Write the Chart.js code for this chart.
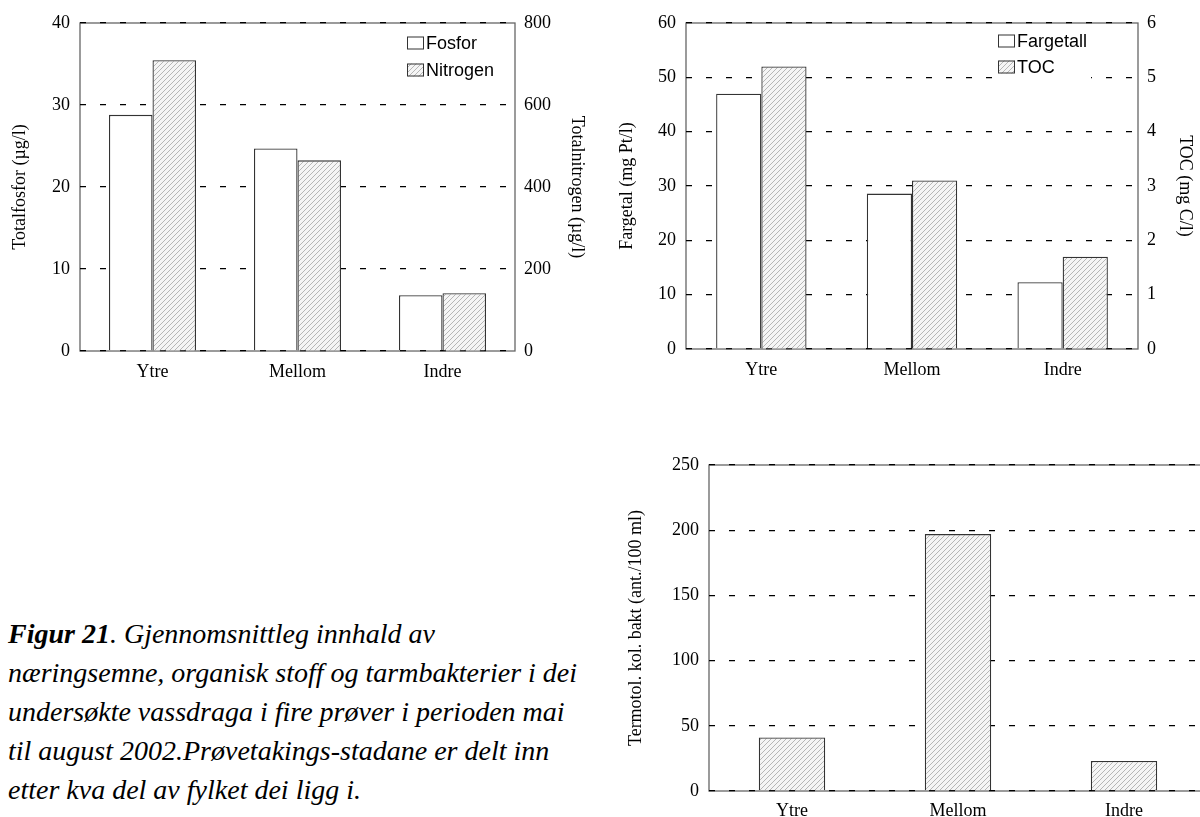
<!DOCTYPE html>
<html>
<head>
<meta charset="utf-8">
<script src="https://cdn.jsdelivr.net/npm/chart.js@4.4.0/dist/chart.umd.min.js"></script>
<style>
  html, body { margin: 0; padding: 0; background: #fff; }
  body { width: 1200px; height: 817px; overflow: hidden; position: relative; }
  canvas { position: absolute; }
  #caption {
    position: absolute; left: 8px; top: 614px;
    font-family: "Liberation Serif", "Times New Roman", serif;
    font-style: italic; font-size: 28px; line-height: 39px;
    color: #000; white-space: nowrap;
  }
</style>
</head>
<body>
<canvas id="c1" width="600" height="400" style="left:0;top:0"></canvas>
<canvas id="c2" width="600" height="400" style="left:600px;top:0"></canvas>
<canvas id="c3" width="620" height="390" style="left:600px;top:440px"></canvas>
<div id="caption"><b>Figur 21</b>. Gjennomsnittleg innhald av<br>næringsemne, organisk stoff og tarmbakterier i dei<br>undersøkte vassdraga i fire prøver i perioden mai<br>til august 2002.Prøvetakings-stadane er delt inn<br>etter kva del av fylket dei ligg i.</div>
<script>
// data
const stations = ['Ytre', 'Mellom', 'Indre'];
const fosfor = [28.8, 24.7, 6.8];        // µg/l
const nitrogen = [709, 465, 141];        // µg/l
const fargetall = [47, 28.6, 12.3];      // mg Pt/l
const toc = [5.2, 3.1, 1.7];             // mg C/l
const termotol = [41, 197, 23];          // ant./100 ml

const serif = { family: '"Liberation Serif", "Times New Roman", serif', size: 18 };

function hatch() {
  const c = document.createElement('canvas');
  c.width = 5; c.height = 5;
  const g = c.getContext('2d');
  g.fillStyle = '#f5f5f5';
  g.fillRect(0, 0, 5, 5);
  g.strokeStyle = '#a6a6a6';
  g.lineWidth = 0.8;
  g.beginPath();
  g.moveTo(0, 5); g.lineTo(5, 0);
  g.moveTo(-1, 1); g.lineTo(1, -1);
  g.moveTo(4, 6); g.lineTo(6, 4);
  g.stroke();
  return g.createPattern(c, 'repeat');
}
const hatchFill = hatch();

// solid grey frame round the plot, drawn under the dashed grid
const frame = {
  id: 'frame',
  beforeDraw(chart) {
    const a = chart.chartArea, ctx = chart.ctx;
    ctx.save();
    ctx.strokeStyle = '#666';
    ctx.lineWidth = 1.3;
    ctx.strokeRect(a.left, a.top, a.right - a.left, a.bottom - a.top);
    ctx.restore();
  }
};

// legend with small boxes inside the plot
const boxLegend = {
  id: 'boxLegend',
  afterDatasetsDraw(chart, args, opts) {
    if (!opts || opts.x === undefined) return;
    const ctx = chart.ctx, a = chart.chartArea;
    ctx.save();
    ctx.font = '18px "Liberation Sans", Arial, sans-serif';
    ctx.textBaseline = 'middle';
    const x = a.left + opts.x;
    const dsets = chart.data.datasets;
    let w = 0;
    dsets.forEach(ds => { w = Math.max(w, ctx.measureText(ds.label).width); });
    ctx.fillStyle = '#fff';
    ctx.fillRect(x - 2, a.top + opts.y - 10, w + 25, opts.gap * (dsets.length - 1) + 22);
    dsets.forEach((ds, i) => {
      const y = a.top + opts.y + i * opts.gap;
      ctx.fillStyle = ds.backgroundColor;
      ctx.fillRect(x, y - 6.5, 17, 13);
      ctx.strokeStyle = '#333';
      ctx.lineWidth = 1;
      ctx.strokeRect(x + 0.5, y - 6, 16, 12);
      ctx.fillStyle = '#000';
      ctx.fillText(ds.label, x + 19, y + 1);
    });
    ctx.restore();
  }
};

function leftAxis(max, step, text, titlePad, width) {
  return {
    position: 'left', min: 0, max: max,
    ticks: { stepSize: step, padding: 10, color: '#000', font: serif },
    grid: { color: '#000', lineWidth: 1.3, drawTicks: false },
    border: { display: false, dash: [6, 14] },
    title: { display: true, text: text, color: '#000', font: serif, padding: { top: titlePad, bottom: 0 } },
    afterFit: s => { s.width = width; }
  };
}
function rightAxis(max, step, text, titlePad, width) {
  return {
    position: 'right', min: 0, max: max,
    ticks: { stepSize: step, padding: 9, color: '#000', font: serif },
    grid: { drawOnChartArea: false, drawTicks: false },
    border: { display: false },
    title: { display: true, text: text, color: '#000', font: serif, padding: { top: titlePad, bottom: 0 } },
    afterFit: s => { s.width = width; }
  };
}
function xAxis(height, pad) {
  return {
    grid: { display: false },
    border: { display: false },
    ticks: { color: '#000', font: serif, padding: pad },
    afterFit: s => { s.height = height; }
  };
}

const white = { backgroundColor: '#fff', borderColor: '#333', borderWidth: 1.3 };
const hatched = { backgroundColor: hatchFill, borderColor: '#333', borderWidth: 1.3 };

new Chart(document.getElementById('c1'), {
  type: 'bar',
  data: {
    labels: stations,
    datasets: [
      Object.assign({ label: 'Fosfor', data: fosfor, yAxisID: 'y' }, white),
      Object.assign({ label: 'Nitrogen', data: nitrogen, yAxisID: 'y1' }, hatched)
    ]
  },
  options: {
    responsive: false, animation: false,
    layout: { padding: { top: 23 } },
    datasets: { bar: { categoryPercentage: 0.6, barPercentage: 1 } },
    plugins: { legend: { display: false }, tooltip: { enabled: false }, boxLegend: { x: 327, y: 20, gap: 27 } },
    scales: {
      x: xAxis(49, 2),
      y: leftAxis(40, 10, 'Totalfosfor (µg/l)', 9, 80),
      y1: rightAxis(800, 200, 'Totalnitrogen (µg/l)', 12, 85)
    }
  },
  plugins: [frame, boxLegend]
});

new Chart(document.getElementById('c2'), {
  type: 'bar',
  data: {
    labels: stations,
    datasets: [
      Object.assign({ label: 'Fargetall', data: fargetall, yAxisID: 'y' }, white),
      Object.assign({ label: 'TOC', data: toc, yAxisID: 'y1' }, hatched)
    ]
  },
  options: {
    responsive: false, animation: false,
    layout: { padding: { top: 23 } },
    datasets: { bar: { categoryPercentage: 0.6, barPercentage: 1 } },
    plugins: { legend: { display: false }, tooltip: { enabled: false }, boxLegend: { x: 312, y: 18, gap: 26 } },
    scales: {
      x: xAxis(51, 2),
      y: leftAxis(60, 10, 'Fargetal (mg Pt/l)', 16, 86),
      y1: rightAxis(6, 1, 'TOC (mg C/l)', 4, 62)
    }
  },
  plugins: [frame, boxLegend]
});

new Chart(document.getElementById('c3'), {
  type: 'bar',
  data: {
    labels: stations,
    datasets: [
      Object.assign({ label: 'Termotol. kol. bakt', data: termotol }, hatched)
    ]
  },
  options: {
    responsive: false, animation: false,
    layout: { padding: { top: 25, right: 13 } },
    datasets: { bar: { categoryPercentage: 0.4, barPercentage: 1 } },
    plugins: { legend: { display: false }, tooltip: { enabled: false } },
    scales: {
      x: xAxis(39, 1),
      y: leftAxis(250, 50, 'Termotol. kol. bakt (ant./100 ml)', 25, 109)
    }
  },
  plugins: [frame]
});
</script>
</body>
</html>
